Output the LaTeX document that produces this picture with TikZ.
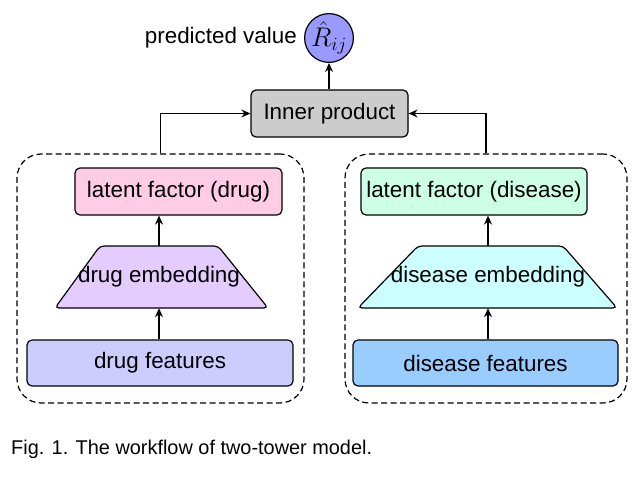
\documentclass[tikz,border=0pt]{standalone}
\usepackage{amsmath,amssymb}
\usepackage{fontspec}
\setmainfont{Liberation Sans}
\usetikzlibrary{arrows.meta,positioning}

\definecolor{latdrug}{HTML}{FFCCE6}
\definecolor{embdrug}{HTML}{E5CCFF}
\definecolor{featdrug}{HTML}{CCCCFF}
\definecolor{latdis}{HTML}{CCFFE6}
\definecolor{embdis}{HTML}{CCFFFF}
\definecolor{featdis}{HTML}{99CCFF}
\definecolor{innergray}{HTML}{CCCCCC}
\definecolor{predblue}{HTML}{9999FF}

\begin{document}
\begin{tikzpicture}[x=1pt,y=-1pt,font=\fontsize{22.4}{26}\selectfont,
    box/.style={draw,rounded corners=5pt,line width=1.2pt,inner sep=0pt},
    embedshape/.style={draw,rounded corners=4pt,line width=1.2pt},
    embed/.style={minimum height=62pt,inner sep=0pt},
    tower/.style={draw,rounded corners=24pt,line width=1.2pt,dash pattern=on 6pt off 3.5pt,inner sep=0pt},
    conn/.style={-{Stealth[length=9pt,width=8pt]},line width=1.3pt}]
\useasboundingbox (0,0) rectangle (644,476);

\node[tower,minimum width=287pt,minimum height=249pt] (drugtower) at (160.5,278.5) {};
\node[tower,minimum width=282pt,minimum height=249pt] (distower) at (486,278.5) {};

% drug tower
\node[box,fill=latdrug,minimum width=207pt,minimum height=47pt] (latd) at (178.5,191.5) {latent factor (drug)};
\draw[embedshape,fill=embdrug] (55,308) -- (100,246) -- (218,246) -- (268,308) -- cycle;
\node[embed] (embd) at (159,277) {drug embedding};
\node[box,fill=featdrug,minimum width=266pt,minimum height=46pt] (featd) at (160,363) {drug features};

% disease tower
\node[box,fill=latdis,minimum width=226pt,minimum height=47pt] (latD) at (474,191.5) {latent factor (disease)};
\draw[embedshape,fill=embdis] (358,308) -- (418,246) -- (563,246) -- (617,308) -- cycle;
\node[embed] (embD) at (488,277) {disease embedding};
\node[box,fill=featdis,minimum width=265pt,minimum height=46pt] (featD) at (485.5,363) {disease features};

\node[box,fill=innergray,minimum width=157pt,minimum height=47pt] (inner) at (329.5,113.5) {Inner product};
\node[circle,draw,fill=predblue,line width=1.2pt,minimum size=44pt,inner sep=0pt] (R) at (329,38) {\scalebox{1.3}{$\hat{R}_{ij}$}};
\node[left=7pt of R,inner sep=0pt] (predlabel) {predicted value};

\draw[conn] (featd.north -| embd.south) -- (embd.south);
\draw[conn] (embd.north) -- (embd.north |- latd.south);
\draw[conn] (featD.north -| embD.south) -- (embD.south);
\draw[conn] (embD.north) -- (embD.north |- latD.south);
\draw[conn] (drugtower.north) |- (inner.west);
\draw[conn] (distower.north) |- (inner.east);
\draw[conn] (inner.north -| R.south) -- (R.south);

\node[anchor=west,inner sep=0pt,font=\fontsize{19.9}{23}\selectfont] (caption) at (11,449) {Fig. 1. The workflow of two-tower model.};
\end{tikzpicture}
\end{document}
